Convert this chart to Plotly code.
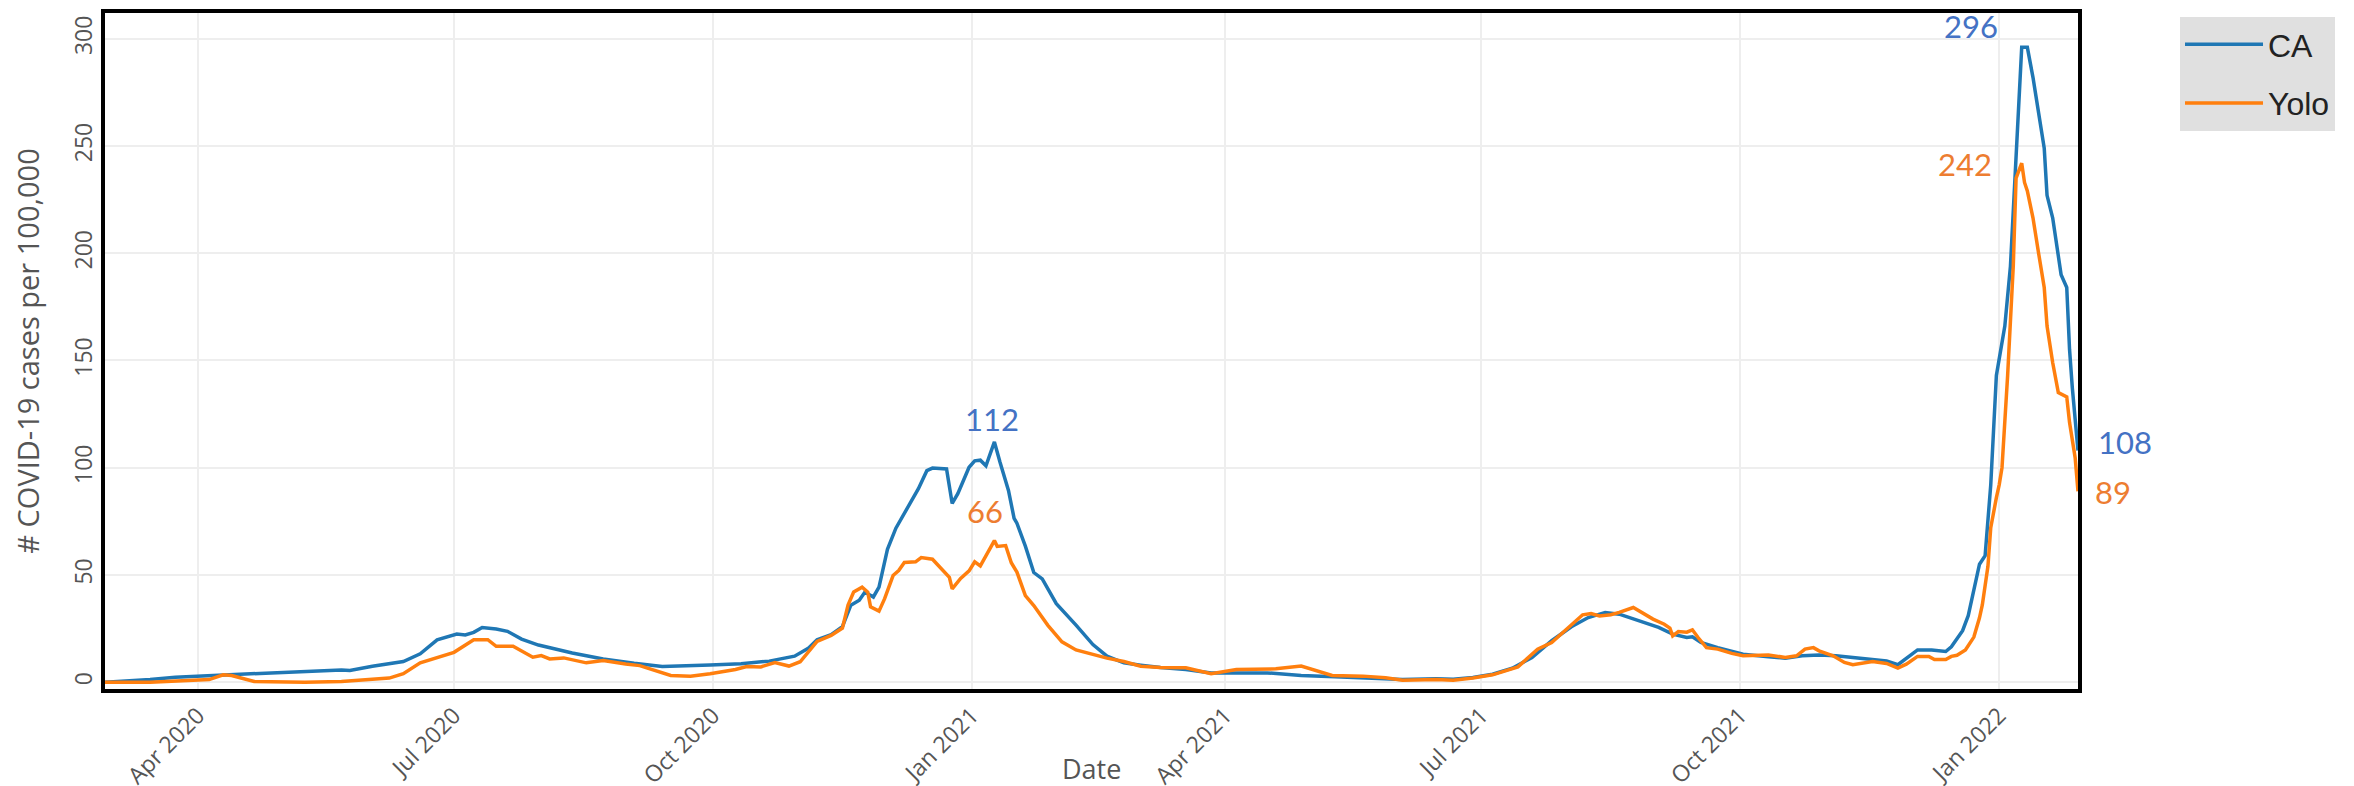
import plotly.graph_objects as go

# ---------------- data ----------------
ca_dates = [
    "2020-02-28", "2020-03-15", "2020-03-24", "2020-04-05", "2020-04-25", "2020-05-22", "2020-05-25",
    "2020-06-02", "2020-06-13", "2020-06-19", "2020-06-25", "2020-07-02", "2020-07-05", "2020-07-08",
    "2020-07-11", "2020-07-16", "2020-07-20", "2020-07-25", "2020-07-31", "2020-08-12", "2020-08-23",
    "2020-09-03", "2020-09-13", "2020-09-30", "2020-10-11", "2020-10-21", "2020-10-30", "2020-11-04",
    "2020-11-07", "2020-11-12", "2020-11-16", "2020-11-19", "2020-11-22", "2020-11-24", "2020-11-27",
    "2020-11-29", "2020-12-02", "2020-12-05", "2020-12-06", "2020-12-09", "2020-12-13", "2020-12-16",
    "2020-12-18", "2020-12-23", "2020-12-24", "2020-12-25", "2020-12-27", "2020-12-31", "2021-01-02",
    "2021-01-04", "2021-01-06", "2021-01-09", "2021-01-11", "2021-01-14", "2021-01-16", "2021-01-17",
    "2021-01-20", "2021-01-23", "2021-01-26", "2021-01-31", "2021-02-07", "2021-02-13", "2021-02-18",
    "2021-02-24", "2021-03-02", "2021-03-09", "2021-03-18", "2021-03-27", "2021-04-16", "2021-04-28",
    "2021-05-10", "2021-05-22", "2021-06-03", "2021-06-15", "2021-06-21", "2021-06-28", "2021-07-05",
    "2021-07-12", "2021-07-19", "2021-07-26", "2021-08-02", "2021-08-08", "2021-08-14", "2021-08-19",
    "2021-08-26", "2021-09-02", "2021-09-07", "2021-09-12", "2021-09-14", "2021-09-17", "2021-09-23",
    "2021-10-02", "2021-10-11", "2021-10-17", "2021-10-23", "2021-10-29", "2021-11-04", "2021-11-16",
    "2021-11-22", "2021-11-26", "2021-12-03", "2021-12-08", "2021-12-13", "2021-12-15", "2021-12-19",
    "2021-12-21", "2021-12-25", "2021-12-27", "2021-12-29", "2021-12-31", "2022-01-02", "2022-01-03",
    "2022-01-05", "2022-01-07", "2022-01-09", "2022-01-11", "2022-01-13", "2022-01-17", "2022-01-18",
    "2022-01-20", "2022-01-23", "2022-01-25", "2022-01-26", "2022-01-27", "2022-01-29",
]
ca_values = [
    0.0, 1.2, 2.3, 3.1, 4.2, 5.7, 5.4,
    7.4, 9.6, 13.2, 19.7, 22.4, 22.0, 23.2,
    25.5, 24.8, 23.7, 20.1, 17.3, 13.6, 10.8,
    8.8, 7.3, 8.0, 8.6, 9.8, 12.1, 15.9,
    19.8, 22.1, 25.9, 35.9, 38.2, 42.0, 39.7,
    44.3, 61.9, 71.8, 74.1, 81.7, 90.2, 98.6,
    99.8, 99.4, 90.9, 83.3, 87.9, 100.2, 103.2,
    103.5, 100.9, 112.0, 102.5, 89.4, 76.4, 74.1,
    63.4, 51.1, 48.1, 36.6, 26.6, 17.5, 12.1,
    9.0, 7.9, 6.8, 5.9, 4.3, 4.3, 3.1,
    2.5, 1.7, 1.2, 1.6, 1.4, 2.2, 3.7,
    6.5, 11.5, 19.3, 25.8, 30.1, 32.5, 31.7,
    28.6, 25.5, 22.4, 20.8, 21.1, 18.5, 16.1,
    13.0, 11.8, 11.2, 12.3, 12.7, 12.3, 10.7,
    9.9, 8.1, 15.0, 15.0, 14.3, 16.5, 24.0,
    31.0, 55.0, 59.0, 92.0, 143.0, 157.0, 166.0,
    194.0, 249.0, 296.0, 296.0, 282.0, 249.0, 227.0,
    216.5, 190.0, 184.0, 155.0, 137.0, 108.0,
]

yolo_dates = [
    "2020-02-28", "2020-03-15", "2020-04-05", "2020-04-10", "2020-04-13", "2020-04-21", "2020-05-09",
    "2020-05-22", "2020-06-08", "2020-06-13", "2020-06-19", "2020-06-27", "2020-07-01", "2020-07-08",
    "2020-07-13", "2020-07-16", "2020-07-22", "2020-07-29", "2020-08-01", "2020-08-04", "2020-08-09",
    "2020-08-17", "2020-08-23", "2020-08-31", "2020-09-05", "2020-09-16", "2020-09-23", "2020-09-30",
    "2020-10-09", "2020-10-13", "2020-10-18", "2020-10-23", "2020-10-28", "2020-11-01", "2020-11-04",
    "2020-11-07", "2020-11-12", "2020-11-16", "2020-11-18", "2020-11-20", "2020-11-23", "2020-11-25",
    "2020-11-26", "2020-11-29", "2020-12-01", "2020-12-04", "2020-12-06", "2020-12-08", "2020-12-12",
    "2020-12-14", "2020-12-18", "2020-12-21", "2020-12-24", "2020-12-25", "2020-12-28", "2020-12-31",
    "2021-01-02", "2021-01-04", "2021-01-06", "2021-01-09", "2021-01-10", "2021-01-13", "2021-01-15",
    "2021-01-17", "2021-01-20", "2021-01-23", "2021-01-28", "2021-02-02", "2021-02-07", "2021-02-13",
    "2021-02-18", "2021-02-24", "2021-03-02", "2021-03-09", "2021-03-18", "2021-03-27", "2021-04-05",
    "2021-04-19", "2021-04-28", "2021-05-09", "2021-05-20", "2021-05-28", "2021-06-03", "2021-06-15",
    "2021-06-21", "2021-06-28", "2021-07-05", "2021-07-14", "2021-07-21", "2021-07-26", "2021-08-02",
    "2021-08-06", "2021-08-09", "2021-08-12", "2021-08-16", "2021-08-19", "2021-08-24", "2021-08-26",
    "2021-08-31", "2021-09-04", "2021-09-06", "2021-09-07", "2021-09-09", "2021-09-12", "2021-09-14",
    "2021-09-16", "2021-09-19", "2021-09-23", "2021-09-28", "2021-10-02", "2021-10-11", "2021-10-17",
    "2021-10-21", "2021-10-24", "2021-10-27", "2021-10-29", "2021-11-03", "2021-11-07", "2021-11-10",
    "2021-11-17", "2021-11-22", "2021-11-26", "2021-11-29", "2021-12-03", "2021-12-07", "2021-12-09",
    "2021-12-13", "2021-12-15", "2021-12-17", "2021-12-20", "2021-12-23", "2021-12-25", "2021-12-26",
    "2021-12-28", "2021-12-29", "2021-12-31", "2022-01-01", "2022-01-02", "2022-01-04", "2022-01-06",
    "2022-01-07", "2022-01-09", "2022-01-10", "2022-01-11", "2022-01-13", "2022-01-15", "2022-01-17",
    "2022-01-18", "2022-01-20", "2022-01-22", "2022-01-25", "2022-01-26", "2022-01-28", "2022-01-29",
]
yolo_values = [
    0.0, 0.0, 1.2, 3.4, 3.1, 0.3, 0.0,
    0.3, 1.9, 3.9, 9.0, 12.1, 13.9, 19.8,
    19.8, 16.7, 16.7, 11.6, 12.4, 10.8, 11.3,
    9.0, 10.1, 8.5, 7.7, 3.1, 2.8, 3.9,
    5.9, 7.3, 7.1, 9.1, 7.5, 9.5, 14.4,
    19.0, 21.8, 25.2, 35.9, 42.0, 44.3, 42.0,
    35.1, 33.1, 38.9, 49.7, 52.0, 55.8, 56.1,
    58.1, 57.3, 52.8, 48.9, 43.5, 48.4, 51.9,
    56.1, 54.2, 58.7, 66.0, 63.3, 63.7, 55.7,
    51.3, 40.3, 35.7, 26.5, 18.8, 15.0, 12.7,
    11.2, 9.6, 7.4, 6.8, 6.7, 3.9, 5.9,
    6.2, 7.5, 3.1, 2.8, 2.0, 0.9, 1.2,
    0.9, 1.9, 3.4, 7.1, 15.4, 18.5, 27.0,
    31.4, 32.0, 30.9, 31.4, 32.5, 34.8, 33.2,
    29.4, 27.0, 25.2, 21.6, 23.6, 23.3, 24.4,
    20.8, 16.1, 15.4, 13.4, 12.3, 12.7, 11.5,
    12.3, 15.4, 16.1, 14.6, 12.3, 9.2, 8.1,
    9.6, 8.7, 6.5, 8.4, 12.0, 12.0, 10.5,
    10.5, 12.0, 12.5, 15.0, 21.0, 30.0, 36.0,
    54.0, 72.0, 86.0, 92.0, 100.0, 143.0, 194.0,
    235.0, 242.0, 233.0, 229.0, 216.5, 200.0, 184.0,
    166.0, 149.0, 135.0, 133.0, 121.0, 104.5, 89.0,
]

# callout labels
peak_labels = ["112", "66", "296", "242"]
peak_x = ["2021-01-08", "2021-01-05 14:00", "2021-12-22", "2021-12-20"]
peak_y = [122.5, 79.6, 306, 241.5]
peak_series = ["CA", "Yolo", "CA", "Yolo"]

end_labels = ["108", "89"]
end_y = [112, 88.5]
end_x = [1.0091, 1.0076]
end_series = ["CA", "Yolo"]

line_colors = {"CA": "#1f77b4", "Yolo": "#ff7f0e"}
label_colors = {"CA": "#4472C4", "Yolo": "#ED7D31"}

# ---------------- figure ----------------
fig = go.Figure()
fig.add_trace(go.Scatter(x=ca_dates, y=ca_values, mode="lines", name="CA", legendgroup="ca",
                         line=dict(color=line_colors["CA"], width=3.5)))
fig.add_trace(go.Scatter(x=yolo_dates, y=yolo_values, mode="lines", name="Yolo", legendgroup="yolo",
                         line=dict(color=line_colors["Yolo"], width=3.5)))

for t, x, y, s in zip(peak_labels, peak_x, peak_y, peak_series):
    fig.add_annotation(x=x, y=y, xref="x", yref="y", text=t, showarrow=False,
                       font=dict(family="Lato", size=31, color=label_colors[s]),
                       xanchor="center", yanchor="middle")
for t, x, y, s in zip(end_labels, end_x, end_y, end_series):
    fig.add_annotation(x=x, y=y, xref="paper", yref="y", text=t, showarrow=False,
                       font=dict(family="Lato", size=31, color=label_colors[s]),
                       xanchor="left", yanchor="middle")

fig.add_annotation(x=0.5, y=-0.117, xref="paper", yref="paper", text="Date", showarrow=False,
                   font=dict(family="Open Sans", size=27, color="#555"),
                   xanchor="center", yanchor="middle")

fig.update_layout(
    width=2354, height=786,
    margin=dict(l=97, r=284, t=5, b=105, autoexpand=False),
    paper_bgcolor="white", plot_bgcolor="white",
    font=dict(family="Open Sans", color="#555"),
    showlegend=True,
    legend=dict(x=1.0517, y=0.994, xanchor="left", yanchor="top",
                bgcolor="#e0e0e0", font=dict(family="Liberation Sans", size=32, color="#222"),
                borderwidth=0, itemwidth=78, tracegroupgap=14),
)
fig.update_xaxes(
    type="date", range=["2020-02-28", "2022-01-29"],
    tick0="2020-01-01", dtick="M3", tickformat="%b %Y", tickangle=-45,
    tickfont=dict(family="Open Sans", size=23, color="#555"),
    showgrid=True, gridcolor="#eeeeee", gridwidth=2,
    showline=True, linecolor="black", linewidth=4, mirror=True,
    zeroline=False, ticks="",
)
fig.update_yaxes(
    range=[-3.2, 312], tick0=0, dtick=50, tickangle=-90,
    tickfont=dict(family="Open Sans", size=23, color="#555"),
    showgrid=True, gridcolor="#eeeeee", gridwidth=2,
    showline=True, linecolor="black", linewidth=4, mirror=True,
    zeroline=False, ticks="",
    title=dict(text="# COVID-19 cases per 100,000", standoff=32,
               font=dict(family="Open Sans", size=29, color="#555")),
)

fig.write_html("out.html")
